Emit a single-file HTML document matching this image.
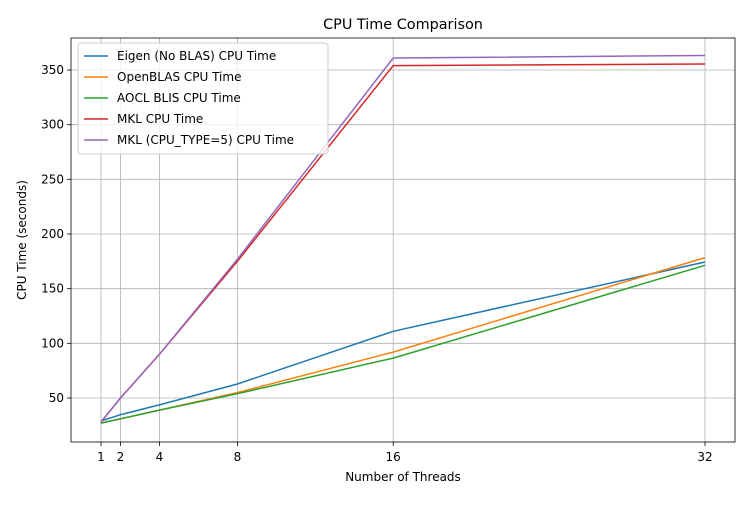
<!DOCTYPE html>
<html><head><meta charset="utf-8"><style>
body{margin:0;background:#fff}
svg text{font-family:"DejaVu Sans","Liberation Sans",sans-serif;fill:#000}
</style></head><body>
<svg width="750" height="500" xmlns="http://www.w3.org/2000/svg">
<rect width="750" height="500" fill="#fff"/>
<g stroke="#b0b0b0" stroke-width="0.8">
<line x1="101" y1="38" x2="101" y2="442"/><line x1="120.5" y1="38" x2="120.5" y2="442"/>
<line x1="159.4" y1="38" x2="159.4" y2="442"/><line x1="237.4" y1="38" x2="237.4" y2="442"/>
<line x1="393.2" y1="38" x2="393.2" y2="442"/><line x1="705" y1="38" x2="705" y2="442"/>
<line x1="71" y1="398" x2="735" y2="398"/><line x1="71" y1="343.3" x2="735" y2="343.3"/>
<line x1="71" y1="288.7" x2="735" y2="288.7"/><line x1="71" y1="234" x2="735" y2="234"/>
<line x1="71" y1="179.3" x2="735" y2="179.3"/><line x1="71" y1="124.7" x2="735" y2="124.7"/>
<line x1="71" y1="70" x2="735" y2="70"/>
</g>
<g fill="none" stroke-width="1.5">
<polyline stroke="#1f77b4" points="101,421 120.5,414.7 159.4,404.9 237.4,384 393.2,331.3 705,262"/>
<polyline stroke="#ff7f0e" points="101,423.1 120.5,418.8 159.4,410.1 237.4,392.6 393.2,352.1 705,257.6"/>
<polyline stroke="#2ca02c" points="101,423.1 120.5,418.8 159.4,410.1 237.4,393.7 393.2,358.1 705,265.3"/>
<polyline stroke="#d62728" points="101,422 120.5,398 159.4,354.3 237.4,261.3 393.2,65.6 705,64"/>
<polyline stroke="#9467bd" points="101,422 120.5,398 159.4,354.3 237.4,259.2 393.2,58 705,55.5"/>
</g>
<rect x="71" y="38" width="664" height="404" fill="none" stroke="#000" stroke-width="0.8"/>
<g stroke="#000" stroke-width="0.8">
<line x1="101" y1="442" x2="101" y2="446"/><line x1="120.5" y1="442" x2="120.5" y2="446"/>
<line x1="159.4" y1="442" x2="159.4" y2="446"/><line x1="237.4" y1="442" x2="237.4" y2="446"/>
<line x1="393.2" y1="442" x2="393.2" y2="446"/><line x1="705" y1="442" x2="705" y2="446"/>
<line x1="67" y1="398" x2="71" y2="398"/><line x1="67" y1="343.3" x2="71" y2="343.3"/>
<line x1="67" y1="288.7" x2="71" y2="288.7"/><line x1="67" y1="234" x2="71" y2="234"/>
<line x1="67" y1="179.3" x2="71" y2="179.3"/><line x1="67" y1="124.7" x2="71" y2="124.7"/>
<line x1="67" y1="70" x2="71" y2="70"/>
</g>
<g font-size="12" text-anchor="middle">
<text x="101" y="461">1</text><text x="120.5" y="461">2</text><text x="159.4" y="461">4</text>
<text x="237.4" y="461">8</text><text x="393.2" y="461">16</text><text x="705" y="461">32</text>
</g>
<g font-size="12" text-anchor="end">
<text x="64" y="402">50</text><text x="64" y="347.3">100</text><text x="64" y="292.7">150</text>
<text x="64" y="238">200</text><text x="64" y="183.3">250</text><text x="64" y="128.7">300</text><text x="64" y="74">350</text>
</g>
<text x="403" y="481" font-size="12" text-anchor="middle">Number of Threads</text>
<text transform="translate(26,240) rotate(-90)" font-size="12" text-anchor="middle">CPU Time (seconds)</text>
<text x="403" y="29" font-size="14.4" text-anchor="middle">CPU Time Comparison</text>
<rect x="78" y="43" width="250" height="111" rx="3" fill="#fff" fill-opacity="0.8" stroke="#ccc"/>
<g stroke-width="1.5">
<line x1="84" y1="56" x2="108" y2="56" stroke="#1f77b4"/>
<line x1="84" y1="77" x2="108" y2="77" stroke="#ff7f0e"/>
<line x1="84" y1="98" x2="108" y2="98" stroke="#2ca02c"/>
<line x1="84" y1="119" x2="108" y2="119" stroke="#d62728"/>
<line x1="84" y1="140" x2="108" y2="140" stroke="#9467bd"/>
</g>
<g font-size="12">
<text x="117" y="60">Eigen (No BLAS) CPU Time</text>
<text x="117" y="81">OpenBLAS CPU Time</text>
<text x="117" y="102">AOCL BLIS CPU Time</text>
<text x="117" y="123">MKL CPU Time</text>
<text x="117" y="144">MKL (CPU_TYPE=5) CPU Time</text>
</g>
</svg>
</body></html>
